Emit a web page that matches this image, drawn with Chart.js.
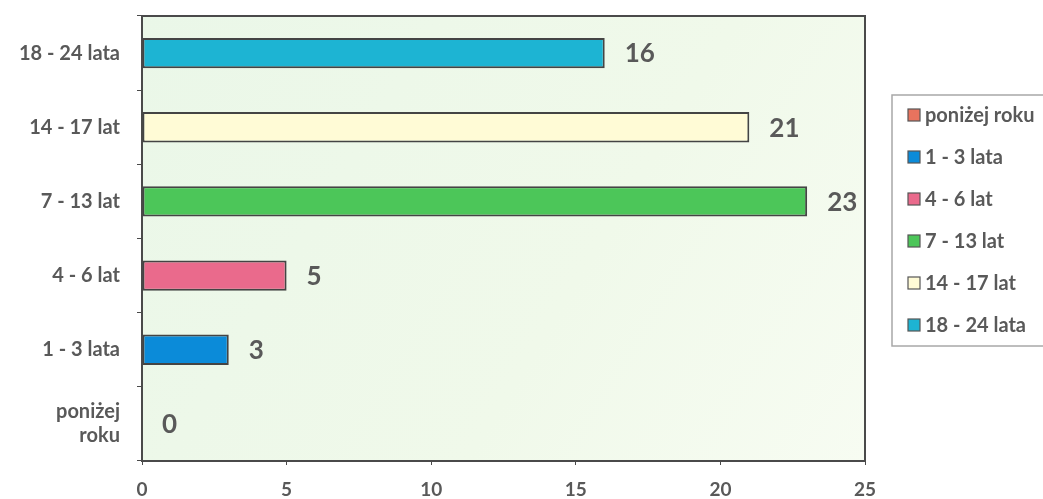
<!DOCTYPE html>
<html>
<head>
<meta charset="utf-8">
<script src="https://cdn.jsdelivr.net/npm/chart.js@4/dist/chart.umd.min.js"></script>
<style>
  html, body { margin: 0; padding: 0; background: #fff; }
  #wrap { width: 1043px; height: 499px; position: relative; }
</style>
</head>
<body>
<div id="wrap"><canvas id="chart"></canvas></div>
<script>
// age groups, top to bottom as in the chart
const categories = ['18 - 24 lata', '14 - 17 lat', '7 - 13 lat', '4 - 6 lat', '1 - 3 lata', ['poniżej', 'roku']];
const values = [16, 21, 23, 5, 3, 0];
const barColors = ['#1db4d3', '#fffbd6', '#4cc659', '#ea6a8c', '#0b8bd9', '#e8735e'];
const xTicks = [0, 5, 10, 15, 20, 25];

const TEXT = '#595959';
const LINE = '#4a4a4a';
const FONT = 'Lato';

// plot background + frame
const framePlugin = {
    id: 'frame',
    beforeDatasetsDraw(chart) {
        const { ctx, chartArea: a } = chart;
        ctx.save();
        const g = ctx.createLinearGradient(a.left, a.top, a.right, a.bottom);
        g.addColorStop(0, '#eaf7e8');
        g.addColorStop(0.6, '#f0f9ea');
        g.addColorStop(1, '#f7fcf2');
        ctx.fillStyle = g;
        ctx.fillRect(a.left, a.top, a.right - a.left, a.bottom - a.top);
        ctx.strokeStyle = LINE;
        ctx.lineWidth = 2;
        ctx.strokeRect(a.left, a.top, a.right - a.left, a.bottom - a.top);
        ctx.restore();
    }
};

// value labels to the right of each bar
const valueLabels = {
    id: 'valueLabels',
    afterDatasetsDraw(chart) {
        const { ctx } = chart;
        const meta = chart.getDatasetMeta(0);
        ctx.save();
        ctx.font = 'bold 26px ' + FONT;
        ctx.fillStyle = TEXT;
        ctx.textBaseline = 'middle';
        ctx.textAlign = 'left';
        meta.data.forEach((bar, i) => {
            ctx.fillText(String(values[i]), bar.x + 20, bar.y + 1);
        });
        ctx.restore();
    }
};

// boxed legend on the right, bottom category first
const boxLegend = {
    id: 'boxLegend',
    afterDraw(chart) {
        const { ctx } = chart;
        const x0 = 892, y0 = 95, rowH = 42;
        ctx.save();
        ctx.fillStyle = '#ffffff';
        ctx.fillRect(x0, y0, 170, 251);
        ctx.strokeStyle = '#a8a8a8';
        ctx.lineWidth = 1.5;
        ctx.strokeRect(x0, y0, 170, 251);
        ctx.font = 'bold 20px ' + FONT;
        ctx.textBaseline = 'middle';
        for (let k = 0; k < categories.length; k++) {
            const i = categories.length - 1 - k;
            const label = Array.isArray(categories[i]) ? categories[i].join(' ') : categories[i];
            const cy = y0 + 20 + k * rowH;
            ctx.fillStyle = barColors[i];
            ctx.fillRect(908, cy - 6, 12, 12);
            ctx.strokeStyle = '#555';
            ctx.lineWidth = 1.2;
            ctx.strokeRect(908, cy - 6, 12, 12);
            ctx.fillStyle = TEXT;
            ctx.fillText(label, 925, cy + 1);
        }
        ctx.restore();
    }
};

new Chart(document.getElementById('chart'), {
    type: 'bar',
    data: {
        labels: categories,
        datasets: [{
            data: values,
            backgroundColor: barColors,
            borderColor: '#444',
            borderWidth: 2,
            borderSkipped: false,
            categoryPercentage: 1,
            barPercentage: 0.41
        }]
    },
    options: {
        indexAxis: 'y',
        responsive: true,
        maintainAspectRatio: false,
        animation: false,
        layout: {
            padding: { top: 16, right: 178, left: 0, bottom: 0 }
        },
        scales: {
            x: {
                min: 0,
                max: 25,
                afterFit: s => { s.height = 38; s.paddingLeft = 0; s.paddingRight = 0; },
                afterBuildTicks: s => { s.ticks = xTicks.map(v => ({ value: v })); },
                grid: { drawOnChartArea: false, color: LINE, tickLength: 4 },
                border: { display: false },
                ticks: {
                    color: TEXT,
                    padding: 13,
                    font: { family: FONT, size: 19, weight: 'bold' }
                }
            },
            y: {
                afterFit: s => { s.width = 142; s.paddingTop = 0; s.paddingBottom = 0; },
                grid: { drawOnChartArea: false, color: LINE, tickLength: 5, offset: true },
                border: { display: false },
                ticks: {
                    color: TEXT,
                    padding: 17,
                    font: { family: FONT, size: 20, weight: 'bold' }
                }
            }
        },
        plugins: {
            legend: { display: false },
            tooltip: { enabled: false }
        }
    },
    plugins: [framePlugin, valueLabels, boxLegend]
});
</script>
</body>
</html>
